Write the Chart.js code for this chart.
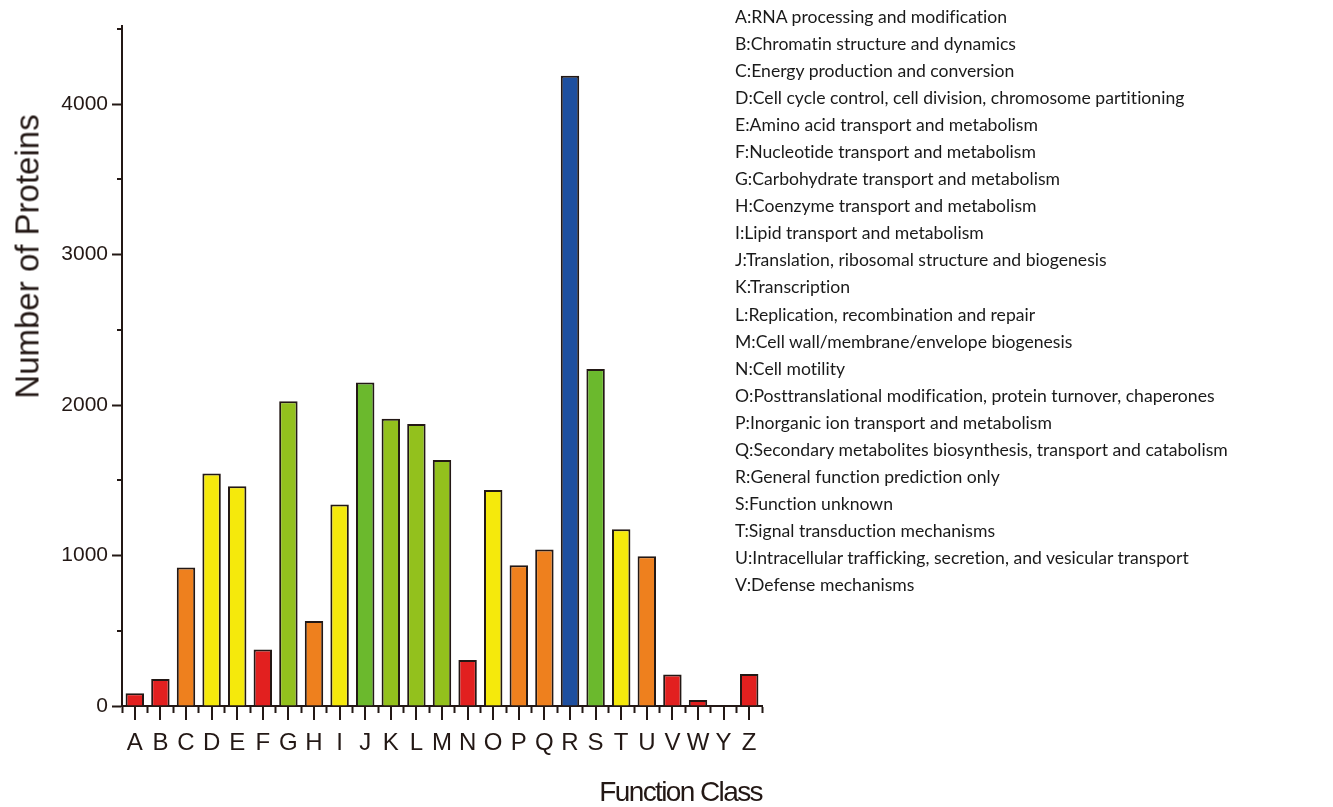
<!DOCTYPE html>
<html>
<head>
<meta charset="utf-8">
<script src="https://cdn.jsdelivr.net/npm/chart.js@4"></script>
<style>
  html, body { margin: 0; padding: 0; background: #fff; }
  #wrap { position: relative; width: 1333px; height: 807px; }
  #myChart { position: absolute; left: 0; top: 0; }
  #ytitle {
    position: absolute; left: -125px; top: 240px; width: 300px; height: 33px;
    line-height: 33px; text-align: center; font: 33px 'Liberation Sans', Arial, sans-serif;
    color: #231815; transform: rotate(-90deg); white-space: nowrap;
  }
  #xtitle {
    position: absolute; right: 571px; top: 776px; height: 36px; line-height: 36px;
    font: 28px 'Liberation Sans', Arial, sans-serif; letter-spacing: -1.6px;
    color: #231815; white-space: nowrap;
  }
  #legend {
    position: absolute; left: 735px; top: 3px;
    font: 17.6px Lato, 'Open Sans', sans-serif; line-height: 27.05px; color: #1a1a1a;
    font-variant-ligatures: none; white-space: nowrap;
  }
</style>
</head>
<body>
<div id="wrap">
  <canvas id="myChart" width="1333" height="807"></canvas>
  <div id="ytitle">Number of Proteins</div>
  <div id="xtitle">Function Class</div>
  <div id="legend"></div>
</div>
<script>
const classes = ['A','B','C','D','E','F','G','H','I','J','K','L','M','N','O','P','Q','R','S','T','U','V','W','Y','Z'];
const proteinCounts = [85, 180, 920, 1545, 1460, 375, 2025, 565, 1340, 2150, 1910, 1875, 1635, 305, 1435, 935, 1040, 4190, 2240, 1175, 995, 210, 40, 3, 212];
const barColors = ['#e2201f','#e2201f','#ee801e','#f5e90c','#f5e90c','#e2201f','#93c11d','#ee801e','#f5e90c','#6bb92d',
                   '#93c11d','#93c11d','#93c11d','#e2201f','#f5e90c','#ee801e','#ee801e','#1e4f9f','#6bb92d','#f5e90c',
                   '#ee801e','#e2201f','#e2201f','#e2201f','#e2201f'];
const descriptions = [
  'A:RNA processing and modification',
  'B:Chromatin structure and dynamics',
  'C:Energy production and conversion',
  'D:Cell cycle control, cell division, chromosome partitioning',
  'E:Amino acid transport and metabolism',
  'F:Nucleotide transport and metabolism',
  'G:Carbohydrate transport and metabolism',
  'H:Coenzyme transport and metabolism',
  'I:Lipid transport and metabolism',
  'J:Translation, ribosomal structure and biogenesis',
  'K:Transcription',
  'L:Replication, recombination and repair',
  'M:Cell wall/membrane/envelope biogenesis',
  'N:Cell motility',
  'O:Posttranslational modification, protein turnover, chaperones',
  'P:Inorganic ion transport and metabolism',
  'Q:Secondary metabolites biosynthesis, transport and catabolism',
  'R:General function prediction only',
  'S:Function unknown',
  'T:Signal transduction mechanisms',
  'U:Intracellular trafficking, secretion, and vesicular transport',
  'V:Defense mechanisms'
];

document.getElementById('legend').innerHTML = descriptions.map(d => '<div>' + d + '</div>').join('');

const ink = '#231815';

// extra tick marks: short minor ticks on y, long centre ticks on x
const extraTicks = {
    id: 'extraTicks',
    afterDraw(chart) {
        const c = chart.ctx, x = chart.scales.x, y = chart.scales.y;
        c.save();
        c.strokeStyle = ink;
        c.lineWidth = 2;
        c.beginPath();
        for (let v = 500; v <= 4500; v += 1000) {
            const py = Math.round(y.getPixelForValue(v));
            c.moveTo(x.left - 5, py); c.lineTo(x.left, py);
        }
        // axis runs a little past the top tick
        c.moveTo(x.left, y.top); c.lineTo(x.left, y.top - 4);
        for (let i = 0; i < classes.length; i++) {
            const px = Math.round(x.getPixelForValue(i));
            c.moveTo(px, y.bottom); c.lineTo(px, y.bottom + 14);
        }
        c.stroke();
        c.restore();
    }
};

const ctx = document.getElementById('myChart');

let graphData = {
    type: 'bar',
    data: {
        labels: classes,
        datasets: [{
            data: proteinCounts,
            backgroundColor: barColors,
            borderColor: ink,
            borderWidth: 2,
            barPercentage: 0.72,
            categoryPercentage: 1
        }]
    },
    options: {
        responsive: false,
        animation: false,
        layout: { padding: { top: 29, right: 571, left: 0, bottom: 0 } },
        plugins: { legend: { display: false }, tooltip: { enabled: false } },
        scales: {
            x: {
                offset: true,
                afterFit: s => { s.height = 101; },
                border: { color: ink, width: 2 },
                grid: { display: true, drawOnChartArea: false, offset: true, tickLength: 7, tickColor: ink, tickWidth: 2 },
                ticks: { color: ink, padding: 16, maxRotation: 0, autoSkip: false,
                         font: { family: "'Liberation Sans', Arial, sans-serif", size: 24 } }
            },
            y: {
                min: 0, max: 4500,
                afterFit: s => { s.width = 122; },
                border: { color: ink, width: 2 },
                grid: { display: true, drawOnChartArea: false, tickLength: 10, tickWidth: 2,
                        tickColor: c => (c.tick && c.tick.value % 1000 === 0) ? ink : 'rgba(0,0,0,0)' },
                ticks: { stepSize: 500, padding: 4, color: ink,
                         callback: v => (v % 1000 === 0 ? v : ''),
                         font: { family: "'Liberation Sans', Arial, sans-serif", size: 21 } }
            }
        }
    },
    plugins: [extraTicks]
};

var myChart = new Chart(ctx, graphData);
</script>
</body>
</html>
